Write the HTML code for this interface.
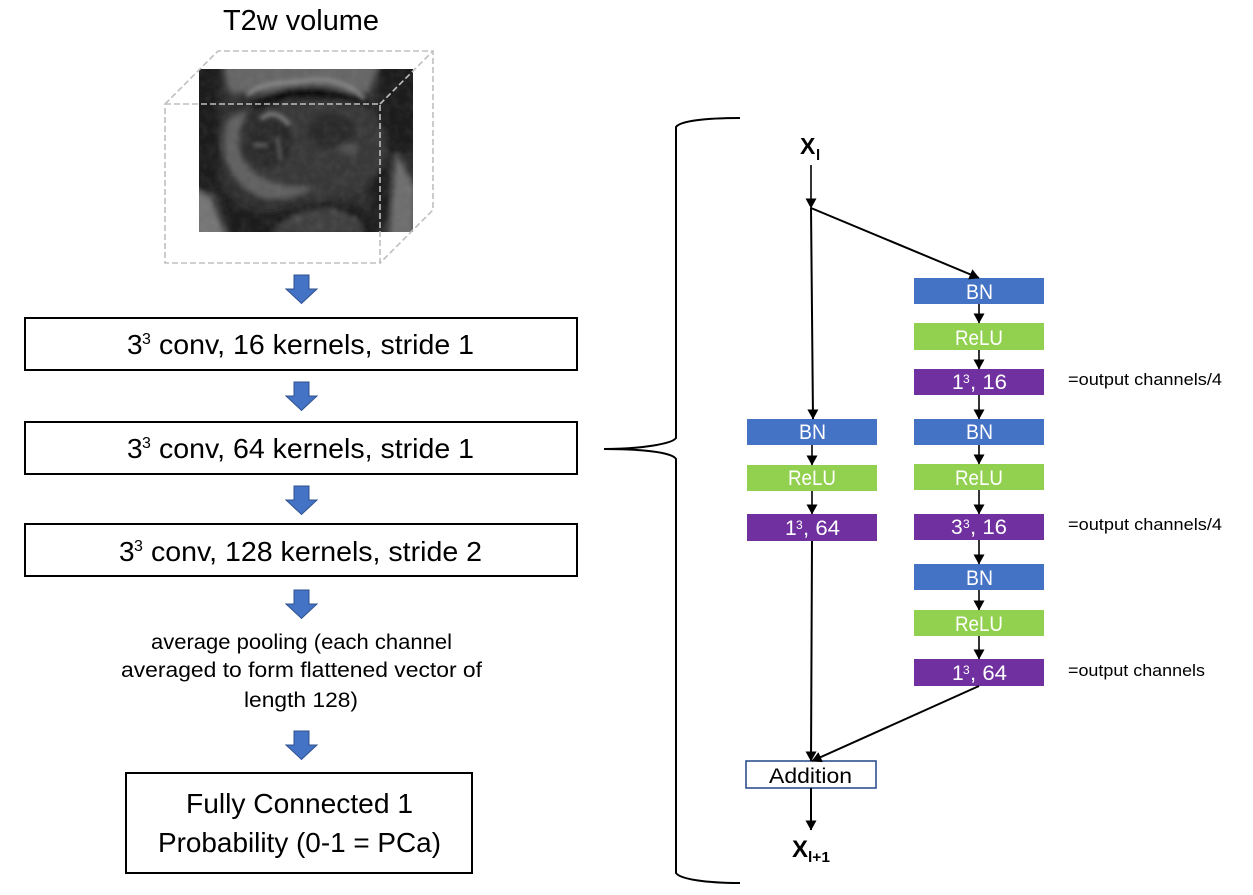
<!DOCTYPE html>
<html>
<head>
<meta charset="utf-8">
<style>
html,body{margin:0;padding:0;background:#fff;width:1253px;height:895px;overflow:hidden}
svg{display:block}
text{font-family:"Liberation Sans",sans-serif;fill:#000}
.l{font-size:28px}
.m{font-size:21px}
.w{font-size:21px;fill:#fff}
.s{font-size:16.5px}
.sup{font-size:16px}
.t{font-size:12px;fill:#fff}
</style>
</head>
<body>
<svg width="1253" height="895" viewBox="0 0 1253 895" xmlns="http://www.w3.org/2000/svg">
<defs>
<marker id="a" viewBox="0 0 10 11" refX="9.5" refY="5.5" markerWidth="10" markerHeight="11" markerUnits="userSpaceOnUse" orient="auto"><path d="M0 0L10 5.5L0 11Z" fill="#000"/></marker>
<filter id="b3" x="-30%" y="-30%" width="160%" height="160%"><feGaussianBlur stdDeviation="3"/></filter>
<filter id="b2" x="-30%" y="-30%" width="160%" height="160%"><feGaussianBlur stdDeviation="2"/></filter>
<filter id="n" x="0" y="0" width="100%" height="100%"><feTurbulence type="fractalNoise" baseFrequency="0.12" numOctaves="2" seed="4"/><feColorMatrix values="0 0 0 0 0.45 0 0 0 0 0.45 0 0 0 0 0.45 0.9 0 0 0 -0.32"/></filter>
<clipPath id="mri"><rect x="0" y="0" width="214" height="163"/></clipPath>
<g id="ba"><path d="M-7.5 0H7.5V14H15.5L0 28.5L-15.5 14H-7.5Z" fill="#4472c4" stroke="#2f528f" stroke-width="1"/></g>
</defs>

<!-- MRI -->
<g transform="translate(199 69)" clip-path="url(#mri)">
<rect width="214" height="163" fill="#2f2f2f"/>
<g filter="url(#b3)">
<path d="M25 -5H180L170 24H30Z" fill="#666"/>
<rect x="-8" y="-8" width="28" height="130" fill="#1c1c1c"/>
<rect x="180" y="-8" width="40" height="92" fill="#1b1b1b"/>
<path d="M172 60L190 60L190 150L172 165Z" fill="#1c1c1c"/>
<path d="M197 84L216 118V170H190Z" fill="#6e6e6e"/>
<path d="M-5 120L12 128L28 170H-5Z" fill="#747474"/>
<path d="M16 105C25 130 45 145 70 145C100 140 130 125 165 140L180 170H30Z" fill="#1a1a1a"/>
<path d="M72 165C85 148 105 140 125 140C145 140 160 150 165 165Z" fill="#3f3f3f"/>
<ellipse cx="120" cy="78" rx="68" ry="52" fill="#393939"/>
<path d="M45 42C70 10 145 8 175 40C140 26 85 26 45 42Z" fill="#0f0f0f"/>
<path d="M28 50C18 85 30 115 60 128C80 134 100 128 115 118C90 120 55 115 42 85C38 68 42 55 50 40Z" fill="#606060"/>
<ellipse cx="71" cy="72" rx="22" ry="27" fill="#2b2b2b"/>
<ellipse cx="132" cy="62" rx="24" ry="17" fill="#292929"/>
<ellipse cx="150" cy="80" rx="10" ry="6" fill="#505050"/>
</g>
<g filter="url(#b2)">
<path d="M48 27C62 10 95 15 110 11C125 9 150 12 165 30" fill="none" stroke="#8a8a8a" stroke-width="3.5"/>
<path d="M62 50C70 42 82 44 90 56" fill="none" stroke="#747474" stroke-width="5"/>
<path d="M54 76H68" stroke="#666" stroke-width="3.5"/>
<path d="M78 68L82 92" stroke="#5a5a5a" stroke-width="3.5"/>
<circle cx="100" cy="150" r="3" fill="#565656"/><circle cx="120" cy="156" r="3" fill="#505050"/>
<circle cx="155" cy="150" r="3" fill="#525252"/><circle cx="135" cy="143" r="3" fill="#565656"/>
</g>
<rect width="214" height="163" filter="url(#n)" opacity="0.2"/>
</g>

<!-- dashed cube -->
<g fill="none" stroke="#bfbfbf" stroke-width="1.6" stroke-dasharray="6 3">
<rect x="165" y="104" width="215" height="159"/>
<path d="M165 104L218 51H433V210L380 263"/>
<path d="M380 104L433 51"/>
</g>

<text x="223" y="30" textLength="156" lengthAdjust="spacingAndGlyphs" style="font-size:29px">T2w volume</text>

<!-- left column -->
<use href="#ba" x="301.5" y="275"/>
<use href="#ba" x="301.5" y="382"/>
<use href="#ba" x="301.5" y="486"/>
<use href="#ba" x="301.5" y="590"/>
<use href="#ba" x="301.5" y="731"/>

<g fill="#fff" stroke="#000" stroke-width="2">
<rect x="25" y="318" width="552" height="52"/>
<rect x="25" y="422" width="552" height="52"/>
<rect x="25" y="524" width="552" height="52"/>
<rect x="126" y="773" width="346" height="100"/>
</g>

<text class="l" x="127" y="354">3</text><text class="sup" x="142" y="344">3</text><text class="l" x="159" y="354" textLength="315" lengthAdjust="spacingAndGlyphs">conv, 16 kernels, stride 1</text>
<text class="l" x="127" y="458">3</text><text class="sup" x="142" y="448">3</text><text class="l" x="159" y="458" textLength="315" lengthAdjust="spacingAndGlyphs">conv, 64 kernels, stride 1</text>
<text class="l" x="119" y="561">3</text><text class="sup" x="134" y="551">3</text><text class="l" x="151" y="561" textLength="331" lengthAdjust="spacingAndGlyphs">conv, 128 kernels, stride 2</text>

<text class="m" x="151" y="649" textLength="301" lengthAdjust="spacingAndGlyphs">average pooling (each channel</text>
<text class="m" x="121" y="677" textLength="361" lengthAdjust="spacingAndGlyphs">averaged to form flattened vector of</text>
<text class="m" x="244" y="707" textLength="114" lengthAdjust="spacingAndGlyphs">length 128)</text>

<text class="l" x="186" y="813" textLength="227" lengthAdjust="spacingAndGlyphs">Fully Connected 1</text>
<text class="l" x="158" y="852" textLength="283" lengthAdjust="spacingAndGlyphs">Probability (0-1 = PCa)</text>

<!-- brace -->
<path d="M740 118C705 118 680 121 676 127V438C672 444 640 449 604 449C640 449 672 452 676 459V873C680 879 705 883 740 883" fill="none" stroke="#000" stroke-width="2"/>

<!-- blocks -->
<g>
<rect x="914" y="278" width="130" height="26" fill="#4472c4"/>
<rect x="914" y="323" width="130" height="27" fill="#92d050"/>
<rect x="914" y="369" width="130" height="26" fill="#7030a0"/>
<rect x="914" y="419" width="130" height="26" fill="#4472c4"/>
<rect x="914" y="464" width="130" height="26" fill="#92d050"/>
<rect x="914" y="514" width="130" height="26" fill="#7030a0"/>
<rect x="914" y="564" width="130" height="26" fill="#4472c4"/>
<rect x="914" y="610" width="130" height="26" fill="#92d050"/>
<rect x="914" y="659" width="130" height="27" fill="#7030a0"/>
<rect x="747" y="419" width="130" height="26" fill="#4472c4"/>
<rect x="747" y="465" width="130" height="26" fill="#92d050"/>
<rect x="747" y="514" width="130" height="27" fill="#7030a0"/>
</g>
<rect x="746" y="761" width="130" height="27" fill="#fff" stroke="#2f528f" stroke-width="1.6"/>

<text class="w" x="966" y="299" textLength="27" lengthAdjust="spacingAndGlyphs">BN</text>
<text class="w" x="955" y="345" textLength="48" lengthAdjust="spacingAndGlyphs">ReLU</text>
<text class="w" x="966" y="439" textLength="27" lengthAdjust="spacingAndGlyphs">BN</text>
<text class="w" x="955" y="485" textLength="48" lengthAdjust="spacingAndGlyphs">ReLU</text>
<text class="w" x="966" y="585" textLength="27" lengthAdjust="spacingAndGlyphs">BN</text>
<text class="w" x="955" y="631" textLength="48" lengthAdjust="spacingAndGlyphs">ReLU</text>
<text class="w" x="799" y="439" textLength="27" lengthAdjust="spacingAndGlyphs">BN</text>
<text class="w" x="788" y="485" textLength="48" lengthAdjust="spacingAndGlyphs">ReLU</text>

<text class="w" x="952" y="389">1</text><text class="t" x="963" y="383">3</text><text class="w" x="970" y="389" textLength="37" lengthAdjust="spacingAndGlyphs">, 16</text>
<text class="w" x="951" y="534">3</text><text class="t" x="963" y="528">3</text><text class="w" x="970" y="534" textLength="37" lengthAdjust="spacingAndGlyphs">, 16</text>
<text class="w" x="952" y="680">1</text><text class="t" x="963" y="674">3</text><text class="w" x="970" y="680" textLength="37" lengthAdjust="spacingAndGlyphs">, 64</text>
<text class="w" x="785" y="535">1</text><text class="t" x="796" y="529">3</text><text class="w" x="803" y="535" textLength="37" lengthAdjust="spacingAndGlyphs">, 64</text>

<text x="769" y="783" textLength="83" lengthAdjust="spacingAndGlyphs" style="font-size:21px">Addition</text>

<text class="s" x="1068" y="385" textLength="154" lengthAdjust="spacingAndGlyphs">=output channels/4</text>
<text class="s" x="1068" y="530" textLength="154" lengthAdjust="spacingAndGlyphs">=output channels/4</text>
<text class="s" x="1068" y="676" textLength="137" lengthAdjust="spacingAndGlyphs">=output channels</text>

<!-- X labels -->
<text x="800" y="154" style="font-size:23px;font-weight:bold">X</text><text x="816" y="160" style="font-size:15px;font-weight:bold">l</text>
<text x="792" y="857" style="font-size:24px;font-weight:bold">X</text><text x="808" y="862" style="font-size:15px;font-weight:bold" textLength="22" lengthAdjust="spacingAndGlyphs">l+1</text>

<!-- connectors -->
<g fill="none" stroke="#000" stroke-width="1.6" marker-end="url(#a)">
<path d="M811 165V208"/>
<path d="M979 304V323"/>
<path d="M979 350V369"/>
<path d="M979 395V419"/>
<path d="M979 445V464"/>
<path d="M979 490V514"/>
<path d="M979 540V564"/>
<path d="M979 590V610"/>
<path d="M979 636V659"/>
<path d="M812 445V465"/>
<path d="M812 491V514"/>
</g>
<g fill="none" stroke="#000" stroke-width="2" marker-end="url(#a)">
<path d="M811 208L979 278"/>
<path d="M811 208L813 419"/>
<path d="M812 541L811 761"/>
<path d="M979 686L812 761"/>
<path d="M811 788V830"/>
</g>
</svg>
</body>
</html>
